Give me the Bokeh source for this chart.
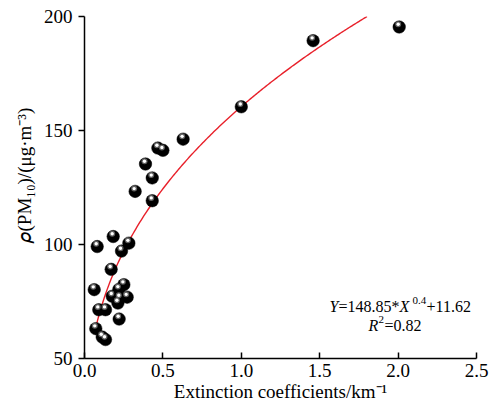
import numpy as np
from bokeh.plotting import figure
from bokeh.models import Label, FixedTicker, Range1d, Title
from bokeh.embed import file_html
from bokeh.resources import INLINE

# ---- data ----
ext = [0.081, 0.183, 0.236, 0.283, 0.170, 0.062, 0.251, 0.219, 0.177, 0.225,
       0.272, 0.213, 0.091, 0.134, 0.221, 0.072, 0.113, 0.134,
       0.629, 0.468, 0.500, 0.389, 0.432, 0.323, 0.432,
       1.000, 1.458, 2.007]
pm10 = [99.1, 103.5, 97.1, 100.6, 89.1, 80.2, 82.4, 80.3, 77.3, 76.5,
        76.9, 74.3, 71.4, 71.4, 67.3, 63.1, 59.4, 58.3,
        146.2, 142.3, 141.3, 135.3, 129.2, 123.3, 119.2,
        160.4, 189.4, 195.4]
x_ticks = [0.0, 0.5, 1.0, 1.5, 2.0, 2.5]
y_ticks = [50, 100, 150, 200]
fit_a, fit_b, fit_c = 148.85, 0.4, 11.62
fit_x_start = 0.065

FONT = "Liberation Serif"
FW, FH = 392, 342
X0, X1, Y0, Y1 = 0.0, 2.5, 50.0, 200.0
px_x = (X1 - X0) / FW
px_y = (Y1 - Y0) / FH

p = figure(width=496, height=410, output_backend="svg", toolbar_location=None,
           x_range=Range1d(X0, X1), y_range=Range1d(Y0, Y1),
           min_border_left=84, min_border_right=20, min_border_top=16,
           min_border_bottom=52)
p.outline_line_color = None
p.grid.grid_line_color = None
p.background_fill_color = "white"
p.border_fill_color = "white"

for ax in (p.xaxis[0], p.yaxis[0]):
    ax.axis_line_color = "black"
    ax.axis_line_width = 1.5
    ax.major_tick_line_color = "black"
    ax.major_tick_line_width = 1.5
    ax.minor_tick_line_color = None
    ax.major_label_text_font = FONT
    ax.major_label_text_font_size = "19px"
    ax.major_label_text_color = "black"
    ax.axis_label_text_font = FONT
    ax.axis_label_text_font_size = "19px"
    ax.axis_label_text_font_style = "normal"
    ax.axis_label_text_color = "black"

p.xaxis.ticker = FixedTicker(ticks=x_ticks)
p.xaxis.major_label_overrides = {t: f"{t:.1f}" for t in x_ticks}
p.xaxis.major_tick_in = 6
p.xaxis.major_tick_out = 0
p.xaxis.major_label_standoff = 5
p.xaxis.axis_label = "Extinction coefficients/km\u207b\u00b9"
p.xaxis.axis_label_standoff = 1

p.yaxis.ticker = FixedTicker(ticks=y_ticks)
p.yaxis.major_tick_in = 0
p.yaxis.major_tick_out = 6
p.yaxis.major_label_standoff = 6

# y axis title, placed in the left panel
p.add_layout(Title(text="\U0001D70C(PM\u2081\u2080)/(\u03bcg\u00b7m\u207b\u00b3)",
                   align="left", offset=116, standoff=12, text_font=FONT,
                   text_font_size="19px", text_font_style="normal",
                   text_color="black"), "left")

# fit curve
x_end = ((Y1 - fit_c) / fit_a) ** (1.0 / fit_b)
xf = np.linspace(fit_x_start, x_end, 200)
yf = fit_a * xf ** fit_b + fit_c
p.line(xf, yf, line_color="#e8202a", line_width=1.4)

# spheres
ex = np.array(ext)
py = np.array(pm10)
p.scatter(ex, py, size=12.5, fill_color="black", line_color="black", line_width=0.5)
p.scatter(ex - 1.0 * px_x, py + 2.8 * px_y, size=6, fill_color="#707070",
          line_color=None, fill_alpha=0.85)
p.scatter(ex - 1.0 * px_x, py + 2.8 * px_y, size=3.4, fill_color="white",
          line_color=None)

def lab(x, y, text, size, style="normal", xo=0):
    p.add_layout(Label(x=x, y=y, text=text, x_offset=xo, text_font=FONT,
                       text_font_size=size, text_font_style=style, text_color="black",
                       text_align="left", text_baseline="alphabetic"))

# equation
ex0 = (329 - 84) * px_x
by1 = Y0 + (358 - 306) * px_y
lab(ex0, by1, "Y", "16px", "italic", 0)
lab(ex0, by1, "=148.85*", "16px", "normal", 9)
lab(ex0, by1, "X", "16px", "italic", 70)
lab(ex0, by1 + 6 * px_y, "0.4", "11px", "normal", 83)
lab(ex0, by1, "+11.62", "16px", "normal", 97)

rx0 = (368 - 84) * px_x
by2 = Y0 + (358 - 325) * px_y
lab(rx0, by2, "R", "16px", "italic", 0)
lab(rx0, by2 + 6 * px_y, "2", "11px", "normal", 10)
lab(rx0, by2, "=0.82", "16px", "normal", 16)

open("out.html", "w").write(file_html(p, INLINE))
